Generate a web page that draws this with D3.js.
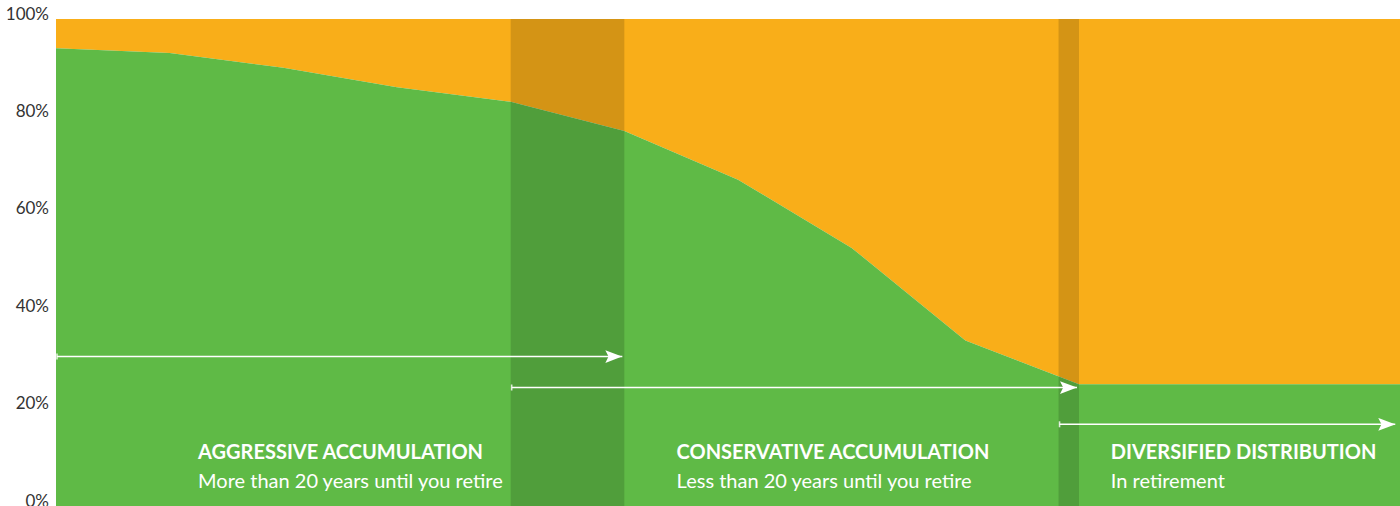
<!DOCTYPE html>
<html>
<head>
<meta charset="utf-8">
<script src="https://cdn.jsdelivr.net/npm/d3@7"></script>
<style>
  html, body { margin: 0; padding: 0; background: #fff; }
  svg { display: block; }
</style>
</head>
<body>
<svg id="chart" width="1400" height="506"></svg>
<script>
// Age points along the glide path and the share held in stocks (%) at each.
const ages = [20, 25, 30, 35, 40, 45, 50, 55, 60, 65, 80];
const stockShare = [94, 93, 90, 86, 83, 77, 67, 53, 34, 25, 25];
const yTicks = [0, 20, 40, 60, 80, 100];

// Transition bands (age ranges) shaded darker.
const bandStarts = [40, 64.1];
const bandEnds = [45, 65];

// Phase arrows and their captions.
const phaseTitles = ["AGGRESSIVE ACCUMULATION", "CONSERVATIVE ACCUMULATION", "DIVERSIFIED DISTRIBUTION"];
const phaseSubtitles = ["More than 20 years until you retire", "Less than 20 years until you retire", "In retirement"];
const phaseFrom = [20, 40, 64.1];
const phaseTo = [45, 65, 79];
const phaseLabelAge = [26.25, 47.3, 66.4];

const W = 1400, H = 506;
const margin = { top: 19, right: 0, bottom: 0, left: 56 };

const svg = d3.select("#chart");

const x = d3.scaleLinear().domain([20, 65]).range([margin.left, 1079]);
const y = d3.scaleLinear().domain([0, 100]).range([H - margin.bottom, margin.top]);

const ORANGE = "#F9AE19";
const GREEN = "#5FBA46";

svg.append("clipPath").attr("id", "plot-clip")
  .append("rect")
  .attr("x", margin.left).attr("y", margin.top)
  .attr("width", W - margin.left).attr("height", H - margin.top);

const plot = svg.append("g").attr("clip-path", "url(#plot-clip)");

const rows = ages.map((a, i) => ({ age: a, stock: stockShare[i] }));

// Bonds fill the remainder up to 100%.
plot.append("path")
  .datum(rows)
  .attr("fill", ORANGE)
  .attr("d", d3.area().x(d => x(d.age)).y0(y(100)).y1(d => y(d.stock)));

// Stocks from 0 up to their share.
plot.append("path")
  .datum(rows)
  .attr("fill", GREEN)
  .attr("d", d3.area().x(d => x(d.age)).y0(y(0)).y1(d => y(d.stock)));

// Darker transition bands.
plot.selectAll("rect.band")
  .data(bandStarts.map((s, i) => ({ s, e: bandEnds[i] })))
  .join("rect")
  .attr("class", "band")
  .attr("x", d => x(d.s))
  .attr("width", d => x(d.e) - x(d.s))
  .attr("y", y(100))
  .attr("height", y(0) - y(100))
  .attr("fill", "#000")
  .attr("fill-opacity", 0.15);

// Y axis labels, baseline on the value.
const yAxis = d3.axisLeft(y)
  .tickValues(yTicks)
  .tickFormat(d => d + "%")
  .tickSize(0)
  .tickPadding(7);

const ga = svg.append("g")
  .attr("transform", `translate(${margin.left},0)`)
  .call(yAxis);
ga.select(".domain").remove();
ga.selectAll("text")
  .attr("dy", 0)
  .attr("fill", "#333")
  .style("font-family", "Lato, 'Open Sans', sans-serif")
  .style("font-size", "17px");

// Phase arrows.
const arrowRows = [356.5, 387.5, 424.3];
const defs = svg.append("defs");
defs.append("marker")
  .attr("id", "arrowhead")
  .attr("viewBox", "0 0 16 12")
  .attr("refX", 16).attr("refY", 6)
  .attr("markerWidth", 17).attr("markerHeight", 13)
  .attr("markerUnits", "userSpaceOnUse")
  .attr("orient", "auto")
  .append("path")
  .attr("d", "M0,0 L16,6 L0,12 L3,6 Z")
  .attr("fill", "#fff");

const arrows = plot.selectAll("g.arrow")
  .data(phaseFrom.map((f, i) => ({ f, t: phaseTo[i], yy: arrowRows[i] })))
  .join("g")
  .attr("class", "arrow");

arrows.append("line")
  .attr("x1", d => x(d.f) + 1)
  .attr("x2", d => x(d.t) - 2)
  .attr("y1", d => d.yy)
  .attr("y2", d => d.yy)
  .attr("stroke", "#fff")
  .attr("stroke-width", 1.6)
  .attr("marker-end", "url(#arrowhead)");

arrows.append("line")
  .attr("x1", d => x(d.f) + 1)
  .attr("x2", d => x(d.f) + 1)
  .attr("y1", d => d.yy - 3)
  .attr("y2", d => d.yy + 3)
  .attr("stroke", "#fff")
  .attr("stroke-opacity", 0.8)
  .attr("stroke-width", 1.6);

// Phase captions.
const captions = svg.selectAll("g.caption")
  .data(phaseTitles.map((t, i) => ({ t, s: phaseSubtitles[i], a: phaseLabelAge[i] })))
  .join("g")
  .attr("class", "caption")
  .attr("transform", d => `translate(${x(d.a)},0)`)
  .style("font-family", "Lato, 'Open Sans', sans-serif")
  .attr("fill", "#fff");

captions.append("text")
  .attr("y", 459)
  .style("font-size", "20px")
  .style("font-weight", 700)
  .text(d => d.t);

captions.append("text")
  .attr("y", 487.5)
  .style("font-size", "20px")
  .text(d => d.s);
</script>
</body>
</html>
